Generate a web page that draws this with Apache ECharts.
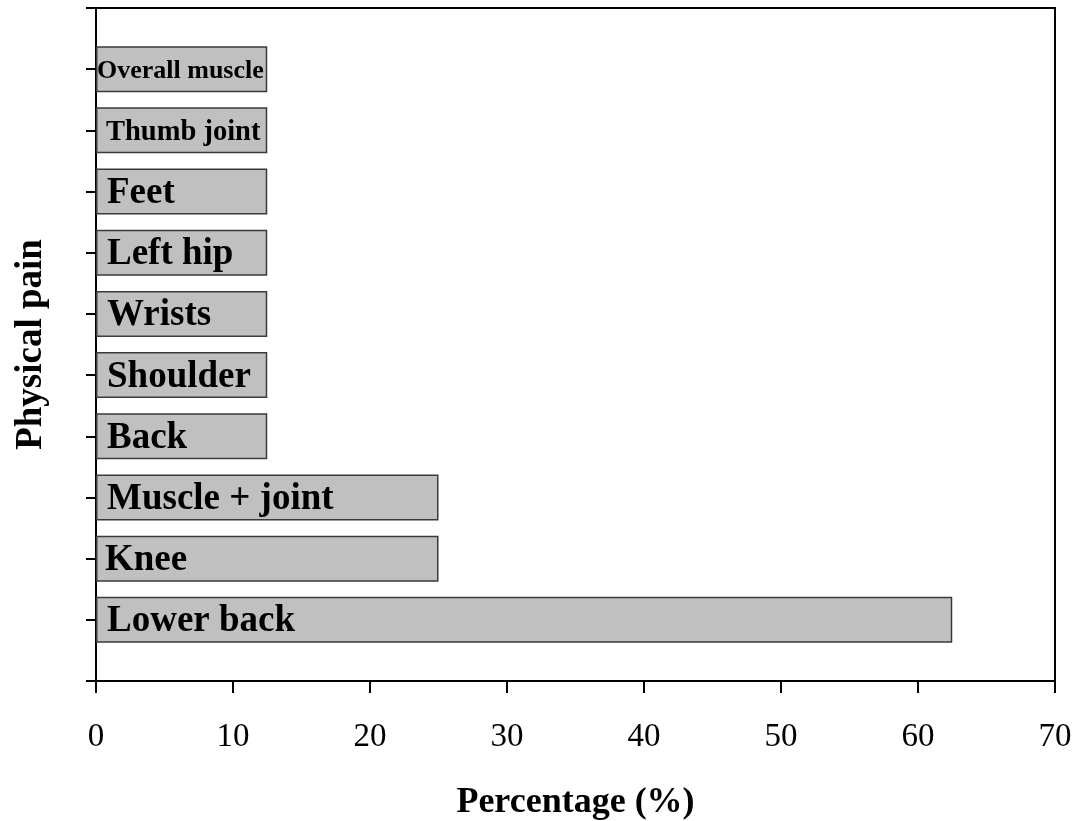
<!DOCTYPE html>
<html>
<head>
<meta charset="utf-8">
<script src="https://cdn.jsdelivr.net/npm/echarts@6/dist/echarts.min.js"></script>
<style>
  html, body { margin: 0; padding: 0; background: #fff; }
  #chart { width: 1079px; height: 821px; }
</style>
</head>
<body>
<div id="chart"></div>
<script>
// bottom to top
const painTypes = ['Lower back', 'Knee', 'Muscle + joint', 'Back', 'Shoulder', 'Wrists', 'Left hip', 'Feet', 'Thumb joint', 'Overall muscle'];
const percentages = [62.5, 25, 25, 12.5, 12.5, 12.5, 12.5, 12.5, 12.5, 12.5];
const xTicks = [0, 10, 20, 30, 40, 50, 60, 70];

// label size per bar (the two top ones were squeezed smaller)
const labelSizes = [37, 37, 37, 37, 37, 37, 37, 37, 28.5, 26];
const labelPads = [11, 9, 11, 11, 11, 11, 11, 11, 10, 1];

const serif = '"Liberation Serif", "Times New Roman", serif';

// blank slots at both ends so ticks sit at the half-spaces above and below
const yCats = [''].concat(painTypes, ['']);
const barData = [null].concat(percentages.map(function (v, i) {
  return {
    value: v,
    label: { fontSize: labelSizes[i], distance: labelPads[i] }
  };
}), [null]);

const chart = echarts.init(document.getElementById('chart'));

const option = {
  animation: false,
  backgroundColor: '#fff',
  grid: {
    left: 96, right: 24, top: 8, bottom: 140,
    outerBoundsMode: 'none',
    show: true, borderColor: '#000', borderWidth: 2
  },
  xAxis: {
    type: 'value',
    min: xTicks[0],
    max: xTicks[xTicks.length - 1],
    interval: 10,
    splitLine: { show: false },
    axisLine: { show: true, lineStyle: { color: '#000', width: 2 } },
    axisTick: { show: true, length: 12, lineStyle: { color: '#000', width: 2 } },
    axisLabel: { color: '#000', fontFamily: serif, fontSize: 33, margin: 40 },
    name: 'Percentage (%)',
    nameLocation: 'middle',
    nameGap: 104,
    nameTextStyle: { color: '#000', fontFamily: serif, fontSize: 36, fontWeight: 'bold' }
  },
  yAxis: {
    type: 'category',
    data: yCats,
    boundaryGap: false,
    axisLine: { show: true, lineStyle: { color: '#000', width: 2 } },
    axisTick: { show: true, length: 10, lineStyle: { color: '#000', width: 2 } },
    axisLabel: { show: false },
    splitLine: { show: false },
    name: 'Physical pain',
    nameLocation: 'middle',
    nameGap: 46,
    nameRotate: 90,
    nameTextStyle: { color: '#000', fontFamily: serif, fontSize: 37, fontWeight: 'bold' }
  },
  series: [
    {
      type: 'bar',
      data: barData,
      barWidth: 46,
      itemStyle: { color: '#c0c0c0', borderColor: '#3a3a3a', borderWidth: 1.5 },
      label: {
        show: true,
        position: 'insideLeft',
        offset: [0, 2],
        formatter: function (p) { return p.name; },
        color: '#000',
        fontFamily: serif,
        fontWeight: 'bold'
      }
    }
  ]
};

chart.setOption(option);
</script>
</body>
</html>
